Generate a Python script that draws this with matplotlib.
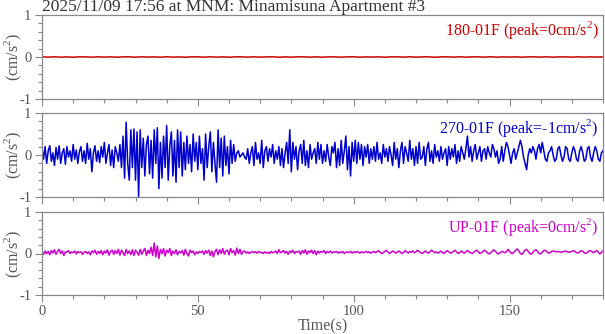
import numpy as np
import matplotlib
matplotlib.use("Agg")
import matplotlib.pyplot as plt
from matplotlib.ticker import MultipleLocator

plt.rcParams['font.family'] = ['Liberation Serif', 'DejaVu Serif']
plt.rcParams['mathtext.fontset'] = 'custom'
plt.rcParams['mathtext.rm'] = 'Liberation Serif'

title = "2025/11/09 17:56 at MNM: Minamisuna Apartment #3"
channels = ["180-01F", "270-01F", "UP-01F"]
peaks = ["0", "-1", "0"]
colors = ["#cc0000", "#0000cc", "#cc00cc"]

# sampling step of the traces (s)
dt_fine = 0.5
dt_coarse = 2.0

# 180-01F: practically flat record
ns_180 = [
    0.004, -0.003, 0.005, -0.004, 0.003, -0.005, 0.004, 0.002, -0.004, 0.005,
    -0.003, 0.004, -0.005, 0.003, 0.004, -0.004, 0.005, -0.002, 0.003, -0.004,
    0.005, -0.003, 0.002, -0.005, 0.004, 0.003, -0.004, 0.005, -0.003, 0.004,
    -0.005, 0.003, 0.004, -0.003, 0.005, -0.004, 0.002, 0.004, -0.005, 0.003,
    -0.004, 0.005, 0.003, -0.003, 0.004, -0.005, 0.004, 0.002, -0.004, 0.003,
    0.005, -0.004, 0.003, -0.002, 0.004, -0.005, 0.003, 0.004, -0.003, 0.005,
    -0.004, 0.003, 0.004, -0.005, 0.002, 0.004, -0.003, 0.005, -0.004, 0.003,
    0.004, -0.003, 0.005, -0.004, 0.003, -0.002, 0.004, -0.005, 0.003, 0.004,
    -0.003, 0.005, -0.004, 0.003, 0.002, -0.004, 0.005, -0.003, 0.004, -0.002,
    0.003,
]

# 270-01F horizontal component
ew_270 = [
    0.15, -0.1, 0.2, -0.2, 0.1, 0.22, -0.15, 0.05, -0.25, 0.18,
    -0.1, 0.22, -0.2, 0.05, 0.15, -0.22, 0.2, -0.05, 0.1, -0.15,
    0.25, -0.1, 0.12, -0.2, 0.08, 0.2, -0.15, 0.1, -0.2, 0.28,
    -0.1, 0.15, -0.4, 0.05, 0.22, -0.15, 0.1, -0.18, 0.2, -0.05,
    0.3, -0.2, 0.05, 0.25, -0.25, 0.12, -0.3, 0.2, 0.05, -0.15,
    0.25, -0.3, 0.45, -0.55, 0.78, -0.2, -0.6, 0.6, -0.3, 0.62,
    -0.6, 0.55, -1.0, 0.6, -0.3, 0.4, -0.5, 0.25, 0.45, -0.45,
    0.35, -0.55, 0.6, -0.2, 0.65, -0.8, 0.3, -0.55, 0.45, -0.3,
    0.7, -0.6, 0.2, 0.55, -0.5, 0.35, -0.65, 0.6, -0.3, 0.55,
    -0.5, 0.3, -0.35, 0.45, -0.2, 0.25, -0.4, 0.5, -0.15, 0.3,
    -0.35, 0.45, -0.2, 0.15, -0.6, 0.5, -0.3, 0.2, 0.55, -0.4,
    0.3, -0.2, -0.65, 0.6, -0.3, 0.4, -0.5, 0.45, -0.25, 0.2,
    -0.45, 0.35, -0.2, 0.25, -0.15, 0.05, 0.1, -0.05, 0.0, 0.05,
    -0.05, -0.1, 0.15, -0.2, 0.05, 0.2, -0.25, 0.3, -0.1, 0.05,
    -0.2, 0.35, -0.3, 0.1, 0.2, -0.15, 0.15, -0.05, 0.25, -0.2,
    0.1, -0.1, 0.2, -0.25, 0.15, -0.3, 0.05, 0.3, -0.2, 0.6,
    -0.4, 0.3, -0.1, 0.2, -0.35, 0.1, 0.25, -0.2, 0.35, -0.25,
    0.1, -0.3, 0.25, -0.1, 0.05, 0.15, -0.2, 0.3, -0.1, 0.25,
    -0.2, 0.1, -0.15, 0.25, -0.05, -0.25, 0.2, 0.05, 0.3, -0.3,
    0.15, -0.25, 0.35, -0.2, 0.1, 0.45, -0.35, 0.2, -0.5, 0.3,
    -0.15, 0.35, -0.2, 0.3, -0.1, 0.25, -0.25, 0.2, -0.05, 0.25,
    -0.2, 0.15, -0.1, 0.2, -0.15, 0.3, -0.1, 0.05, -0.2, 0.25,
    -0.05, 0.15, -0.15, 0.2, 0.0, -0.25, 0.3, -0.1, 0.15, -0.3,
    0.1, 0.3, -0.2, 0.2, 0.05, -0.15, 0.35, -0.1, 0.15, -0.25,
    0.2, -0.2, 0.3, -0.1, -0.05, 0.2, -0.25, 0.15, 0.3, -0.15,
    0.1, -0.2, 0.25, -0.05, 0.1, -0.15, 0.2, -0.1, 0.05, 0.15,
    -0.25, 0.2, -0.1, 0.15, -0.05, 0.25, -0.2, 0.1, -0.15, 0.2,
    0.05, -0.1, 0.15, 0.45, -0.05, 0.2, -0.15, 0.1, 0.25, -0.1,
    0.05, 0.2, -0.15, 0.1, 0.15, -0.1, 0.2, 0.05, -0.05, 0.25,
    0.15, -0.05, 0.1, -0.2, -0.1, 0.2, -0.15, 0.1, 0.3, 0.2,
    0.0, -0.2, 0.05, 0.15, -0.1, 0.05, 0.2, 0.35, 0.2, -0.05,
    -0.2, -0.35, 0.0, 0.15, 0.05, 0.2, 0.1, -0.1, 0.15, 0.25,
    0.05, 0.3, 0.1, -0.1, -0.15, 0.05, 0.1, 0.2, 0.0, -0.15,
    -0.1, 0.15, 0.2, 0.0, -0.15, -0.05, 0.2, 0.15, -0.1, -0.15,
    0.05, 0.2, 0.1, -0.1, -0.15, 0.1, 0.2, 0.05, -0.15, -0.1,
    0.15, 0.2, -0.05, -0.15, 0.05, 0.2, 0.1, -0.1, -0.15, 0.05,
    0.1,
]

# UP-01F vertical component
ud_up = [
    0.03, -0.02, 0.06, 0.0, 0.05, -0.03, 0.07, 0.01, 0.09, -0.02,
    0.05, 0.1, 0.0, 0.06, -0.05, 0.04, 0.03, 0.07, 0.0, 0.04,
    0.02, 0.06, -0.01, 0.05, 0.02, 0.04, -0.02, 0.03, 0.05, 0.0,
    0.04, -0.03, 0.06, 0.02, 0.08, -0.02, 0.05, 0.0, 0.07, -0.03,
    0.06, 0.01, 0.09, -0.04, 0.05, 0.08, -0.02, 0.07, 0.0, 0.1,
    -0.04, 0.08, 0.02, -0.05, 0.1, 0.0, 0.06, -0.03, 0.09, -0.05,
    0.08, 0.03, -0.04, 0.1, -0.02, 0.06, 0.12, -0.05, 0.08, 0.0,
    0.15, -0.05, 0.25, -0.08, 0.18, -0.12, 0.1, 0.0, 0.12, -0.06,
    0.08, 0.02, 0.12, -0.05, 0.06, 0.0, 0.09, -0.03, 0.05, 0.02,
    0.07, -0.04, 0.1, 0.0, -0.06, 0.08, 0.02, 0.06, -0.03, 0.04,
    0.0, 0.05, 0.02, 0.06, -0.02, 0.07, 0.01, 0.08, -0.05, 0.06,
    -0.08, 0.05, 0.1, -0.03, 0.09, 0.0, 0.12, -0.02, 0.06, 0.08,
    -0.03, 0.12, 0.02, 0.07, -0.04, 0.13, 0.0, 0.1, -0.02, 0.04,
    0.06, 0.01, 0.04, 0.0, 0.03, 0.05, 0.02, 0.04, 0.01, 0.05,
    0.02, 0.03, 0.0, 0.04, 0.01, 0.03, 0.0, 0.05, 0.02, 0.03,
    0.06, 0.0, 0.09, 0.02, 0.04, 0.07, 0.01, 0.05, -0.02, 0.06,
    0.02, 0.08, 0.0, 0.05, 0.03, 0.06, -0.02, 0.07, 0.01, 0.09,
    -0.02, 0.06, 0.02, 0.08, 0.0, 0.07, -0.03, 0.06, 0.01, 0.05,
    0.03, 0.07, 0.0, 0.05, 0.02, 0.06, 0.01, 0.04, 0.03, 0.05,
    0.01, 0.04, 0.02, 0.05, 0.0, 0.03, 0.04, 0.02, 0.05, 0.01,
    0.04, 0.02, 0.05, 0.03, 0.01, 0.04, 0.02, 0.03, 0.05, 0.02,
    0.04, 0.01, 0.03, 0.05, 0.02, 0.04, 0.07, 0.03, 0.0, 0.02,
    0.05, 0.08, 0.03, 0.0, 0.03, 0.06, 0.04, 0.01, 0.03, 0.06,
    0.03, 0.0, 0.02, 0.07, 0.04, 0.01, 0.05, 0.03, 0.06, 0.02,
    0.04, 0.08, 0.05, 0.02, 0.0, 0.03, 0.06, 0.03, 0.01, 0.04,
    0.08, 0.05, 0.02, 0.04, 0.01, 0.03, 0.06, 0.02, 0.0, 0.04,
    0.07, 0.04, 0.01, 0.02, 0.05, 0.08, 0.04, 0.0, 0.02, 0.06,
    0.03, 0.01, 0.04, 0.07, 0.04, 0.02, 0.0, 0.03, 0.06, 0.08,
    0.04, 0.0, 0.02, 0.05, 0.08, 0.05, 0.01, -0.01, 0.02, 0.06,
    0.09, 0.05, 0.01, -0.01, 0.02, 0.05, 0.04, 0.02, 0.04, 0.1,
    0.06, 0.01, 0.0, 0.04, 0.08, 0.11, 0.06, 0.0, -0.02, 0.03,
    0.08, 0.1, 0.05, 0.0, -0.02, 0.03, 0.07, 0.09, 0.05, 0.0,
    -0.01, 0.03, 0.07, 0.08, 0.04, 0.01, 0.02, 0.05, 0.06, 0.05,
    0.04, 0.05, 0.04, 0.03, 0.04, 0.05, 0.06, 0.04, 0.03, 0.04,
    0.05, 0.07, 0.05, 0.02, 0.01, 0.04, 0.07, 0.05, 0.02, 0.0,
    0.03, 0.06, 0.07, 0.04, 0.02, 0.05, 0.07, 0.03, -0.01, 0.03,
    0.06,
]

traces = [
    (np.arange(len(ns_180)) * dt_coarse, np.array(ns_180)),
    (np.arange(len(ew_270)) * dt_fine, np.array(ew_270)),
    (np.arange(len(ud_up)) * dt_fine, np.array(ud_up)),
]

W, H = 605, 334
fig = plt.figure(figsize=(W / 100, H / 100), dpi=100)

# panel boxes in pixels: (top, bottom)
left_px, right_px = 42, 603
boxes = [(15, 99), (113, 197), (212, 295)]

grey = "#555555"
spine_c = "#888888"
fs = 11.5
fs_tick = 10.5

axes = []
for i, ((top, bot), (t, y)) in enumerate(zip(boxes, traces)):
    ax = fig.add_axes([left_px / W, 1 - bot / H, (right_px - left_px) / W, (bot - top) / H])
    ax.plot(t, y, color=colors[i], lw=1.1)
    ax.set_xlim(0, 180)
    ax.set_ylim(-1, 1)
    ax.xaxis.set_major_locator(MultipleLocator(50))
    ax.xaxis.set_minor_locator(MultipleLocator(10))
    ax.yaxis.set_major_locator(MultipleLocator(1))
    ax.yaxis.set_minor_locator(MultipleLocator(0.2))
    ax.tick_params(which='both', direction='out', colors=spine_c, labelcolor=grey,
                   labelsize=fs_tick, top=False, right=False)
    ax.tick_params(which='major', length=5, width=0.8, pad=2.5)
    ax.tick_params(which='minor', length=3, width=0.8)
    ax.set_yticks([-1, 0, 1])
    ax.set_yticklabels(["-1", "0", "1"])
    for s in ax.spines.values():
        s.set_color(spine_c)
        s.set_linewidth(0.9)
    if i < 2:
        ax.tick_params(labelbottom=False)
    ax.set_ylabel("(cm/s$^2$)", color=grey, fontsize=fs)
    ax.yaxis.set_label_coords((24 - left_px) / (right_px - left_px), 0.5)
    ax.text(0.992, 0.95, f"{channels[i]} (peak={peaks[i]}cm/s$^2$)",
            transform=ax.transAxes, ha='right', va='top', color=colors[i], fontsize=fs)
    axes.append(ax)

axes[-1].set_xlabel("Time(s)", color=grey, fontsize=fs, labelpad=0)
fig.text(left_px / W, 1 - 7 / H, title, ha='left', va='center', color="#333333", fontsize=12.5)

fig.savefig("out.png", dpi=100)
